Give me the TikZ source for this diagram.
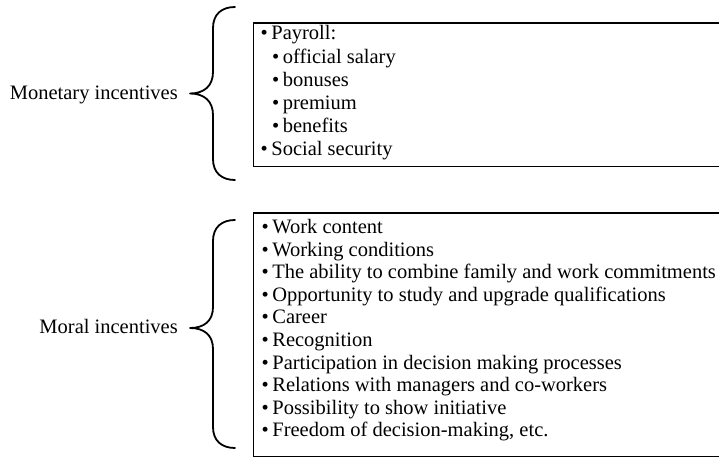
\documentclass[tikz,border=0pt]{standalone}
\usepackage{fontspec}
\setmainfont{Liberation Serif}
\newcommand\itembullet{•\kern3.5pt}
\begin{document}
\begin{tikzpicture}[x=1pt,y=-1pt,
  txt/.style={anchor=base west, inner sep=0pt, font=\fontsize{20.5}{24}\selectfont},
  lbl/.style={anchor=base east, inner sep=0pt, font=\fontsize{20.5}{24}\selectfont},
  frame/.style={draw, line width=1.9pt, inner sep=0pt, anchor=north west},
  brace/.style={draw, line width=1.8pt, line cap=round, line join=round}]
\useasboundingbox (0,0) rectangle (719,457);
\clip (0,0) rectangle (719,457);

% list frames (run past the right edge)
\node[frame, minimum width=490pt, minimum height=143pt] (monbox) at (252.5,22.5) {};
\node[frame, minimum width=490pt, minimum height=244pt] (morbox) at (252.5,211.8) {};

% group labels
\node[lbl] (monlbl) at (178,100) {Monetary incentives};
\node[lbl] (morlbl) at (178,333) {Moral incentives};

% curly braces
\draw[brace] (235,7) .. controls (222,7) and (213,14) .. (213,28) -- (213,72)
  .. controls (213,86) and (204,93.5) .. (190,93.5)
  .. controls (204,93.5) and (213,101) .. (213,115) -- (213,159)
  .. controls (213,173) and (222,180) .. (235,180);
\draw[brace] (235,220) .. controls (222,220) and (213,227) .. (213,241) -- (213,307)
  .. controls (213,321) and (204,328) .. (190,328)
  .. controls (204,328) and (213,335) .. (213,349) -- (213,427)
  .. controls (213,441) and (222,448) .. (235,448);

% monetary items
\node[txt] (m1) at (260.5,40)   {\itembullet Payroll:};
\node[txt] (m2) at (272,63.2)   {\itembullet official salary};
\node[txt] (m3) at (272,86.4)   {\itembullet bonuses};
\node[txt] (m4) at (272,109.6)  {\itembullet premium};
\node[txt] (m5) at (272,132.8)  {\itembullet benefits};
\node[txt] (m6) at (260.5,156)  {\itembullet Social security};

% moral items
\node[txt] (r1)  at (261.5,233.5) {\itembullet Work content};
\node[txt] (r2)  at (261.5,256.1) {\itembullet Working conditions};
\node[txt] (r3)  at (261.5,278.7) {\itembullet The ability to combine family and work commitments};
\node[txt] (r4)  at (261.5,301.3) {\itembullet Opportunity to study and upgrade qualifications};
\node[txt] (r5)  at (261.5,323.9) {\itembullet Career};
\node[txt] (r6)  at (261.5,346.5) {\itembullet Recognition};
\node[txt] (r7)  at (261.5,369.1) {\itembullet Participation in decision making processes};
\node[txt] (r8)  at (261.5,391.7) {\itembullet Relations with managers and co-workers};
\node[txt] (r9)  at (261.5,414.3) {\itembullet Possibility to show initiative};
\node[txt] (r10) at (261.5,436.9) {\itembullet Freedom of decision-making, etc.};
\end{tikzpicture}
\end{document}
